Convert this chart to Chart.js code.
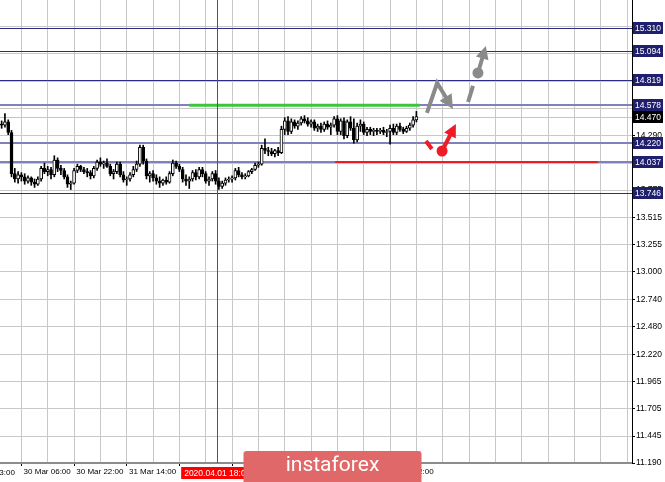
<!DOCTYPE html>
<html>
<head>
<meta charset="utf-8">
<script src="https://cdn.jsdelivr.net/npm/chart.js@4.4.0/dist/chart.umd.min.js"></script>
<style>
  html, body { margin: 0; padding: 0; background: #fff; }
</style>
</head>
<body>
<canvas id="chart" width="665" height="482"></canvas>
<script>
// hourly candles, one row of ten per line
var opens = [
  14.40, 14.39, 14.42, 14.32, 13.93, 13.88, 13.92, 13.90, 13.86, 13.89,
  13.85, 13.83, 13.88, 13.98, 13.95, 13.97, 13.92, 14.06, 13.98, 13.96,
  13.90, 13.83, 13.84, 13.96, 14.00, 13.97, 13.95, 13.94, 13.91, 13.98,
  14.04, 14.02, 14.03, 14.00, 13.93, 13.95, 14.02, 13.92, 13.87, 13.88,
  13.92, 13.97, 14.02, 14.18, 14.05, 13.91, 13.93, 13.89, 13.86, 13.84,
  13.87, 13.85, 13.93, 14.03, 14.00, 13.97, 13.88, 13.86, 13.88, 13.94,
  13.90, 13.97, 13.93, 13.86, 13.88, 13.93, 13.86, 13.81, 13.84, 13.87,
  13.88, 13.89, 13.96, 13.92, 13.90, 13.91, 13.95, 13.97, 14.01, 14.02,
  14.17, 14.15, 14.14, 14.12, 14.15, 14.13, 14.35, 14.43, 14.33, 14.42,
  14.38, 14.41, 14.45, 14.43, 14.40, 14.42, 14.36, 14.38, 14.35, 14.40,
  14.37, 14.39, 14.45, 14.33, 14.43, 14.29, 14.42, 14.36, 14.25, 14.38,
  14.40, 14.32, 14.35, 14.33, 14.34, 14.33, 14.34, 14.32, 14.33, 14.36,
  14.32, 14.38, 14.35, 14.33, 14.36, 14.39, 14.44
];
var highs = [
  14.43, 14.50, 14.44, 14.34, 13.98, 13.95, 13.94, 13.93, 13.91, 13.90,
  13.88, 13.90, 14.00, 14.03, 14.00, 13.99, 14.10, 14.08, 14.01, 13.98,
  13.92, 13.86, 13.98, 14.02, 14.01, 13.99, 13.98, 13.96, 14.00, 14.06,
  14.08, 14.05, 14.07, 14.02, 13.97, 14.04, 14.04, 13.95, 13.90, 13.94,
  14.00, 14.05, 14.20, 14.20, 14.07, 13.95, 13.96, 13.92, 13.90, 13.88,
  13.90, 13.95, 14.06, 14.05, 14.02, 13.99, 13.92, 13.90, 13.96, 13.97,
  13.99, 13.99, 13.95, 13.90, 13.95, 13.96, 13.89, 13.86, 13.89, 13.90,
  13.91, 13.98, 13.99, 13.94, 13.93, 13.96, 13.98, 14.03, 14.04, 14.20,
  14.26, 14.18, 14.17, 14.16, 14.18, 14.38, 14.46, 14.47, 14.45, 14.44,
  14.43, 14.47, 14.48, 14.46, 14.44, 14.44, 14.40, 14.41, 14.42, 14.43,
  14.41, 14.47, 14.48, 14.45, 14.46, 14.44, 14.47, 14.45, 14.41, 14.44,
  14.42, 14.37, 14.37, 14.36, 14.36, 14.36, 14.37, 14.35, 14.39, 14.40,
  14.40, 14.41, 14.37, 14.38, 14.41, 14.47, 14.52
];
var lows = [
  14.36, 14.37, 14.30, 13.90, 13.85, 13.84, 13.86, 13.83, 13.84, 13.82,
  13.80, 13.82, 13.86, 13.93, 13.91, 13.88, 13.90, 13.95, 13.92, 13.88,
  13.80, 13.78, 13.83, 13.94, 13.95, 13.93, 13.90, 13.88, 13.89, 13.96,
  14.00, 13.98, 13.99, 13.91, 13.88, 13.93, 13.90, 13.85, 13.82, 13.86,
  13.90, 13.95, 14.00, 14.02, 13.88, 13.85, 13.86, 13.83, 13.80, 13.82,
  13.83, 13.84, 13.91, 13.98, 13.95, 13.85, 13.82, 13.79, 13.86, 13.87,
  13.88, 13.90, 13.84, 13.82, 13.86, 13.83, 13.78, 13.79, 13.82, 13.85,
  13.85, 13.87, 13.90, 13.88, 13.88, 13.90, 13.93, 13.96, 13.99, 14.01,
  14.12, 14.10, 14.10, 14.09, 14.10, 14.12, 14.30, 14.30, 14.31, 14.36,
  14.35, 14.39, 14.41, 14.38, 14.37, 14.34, 14.33, 14.32, 14.33, 14.35,
  14.30, 14.37, 14.30, 14.30, 14.26, 14.27, 14.34, 14.22, 14.23, 14.33,
  14.30, 14.29, 14.30, 14.29, 14.30, 14.31, 14.30, 14.28, 14.21, 14.30,
  14.30, 14.33, 14.31, 14.32, 14.34, 14.37, 14.42
];
var closes = [
  14.39, 14.42, 14.32, 13.93, 13.88, 13.92, 13.90, 13.86, 13.89, 13.85,
  13.83, 13.88, 13.98, 13.95, 13.97, 13.92, 14.06, 13.98, 13.96, 13.90,
  13.83, 13.84, 13.96, 14.00, 13.97, 13.95, 13.94, 13.91, 13.98, 14.04,
  14.02, 14.03, 14.00, 13.93, 13.95, 14.02, 13.92, 13.87, 13.88, 13.92,
  13.97, 14.02, 14.18, 14.05, 13.91, 13.93, 13.89, 13.86, 13.84, 13.87,
  13.85, 13.93, 14.03, 14.00, 13.97, 13.88, 13.86, 13.88, 13.94, 13.90,
  13.97, 13.93, 13.86, 13.88, 13.93, 13.86, 13.81, 13.84, 13.87, 13.88,
  13.89, 13.96, 13.92, 13.90, 13.91, 13.95, 13.97, 14.01, 14.02, 14.17,
  14.15, 14.14, 14.12, 14.15, 14.13, 14.35, 14.43, 14.33, 14.42, 14.38,
  14.41, 14.45, 14.43, 14.40, 14.42, 14.36, 14.38, 14.35, 14.40, 14.37,
  14.39, 14.45, 14.33, 14.43, 14.29, 14.42, 14.36, 14.25, 14.38, 14.40,
  14.32, 14.35, 14.33, 14.34, 14.33, 14.34, 14.32, 14.33, 14.36, 14.32,
  14.38, 14.35, 14.33, 14.36, 14.39, 14.44, 14.47
];

// price scale
var yTicks = [11.190, 11.445, 11.705, 11.965, 12.220, 12.480, 12.740, 13.000, 13.255,
  13.515, 13.775, 14.030, 14.290, 14.550, 14.805, 15.065, 15.325];
var yMin = 11.190;
var yMax = 15.575;

// time scale: 192 bar slots, label every 16 bars starting at bar 6
var barSlots = 192;
var timeLabels = ["30 Mar 06:00", "30 Mar 22:00", "31 Mar 14:00", "1 Apr 06:00",
  "1 Apr 22:00", "2 Apr 14:00", "3 Apr 06:00", "3 Apr 22:00"];
var firstLabelBar = 6;
var labelStep = 16;
var gridStep = 8;
var prevLabel = "27 Mar 13:00";

// horizontal levels
var levelsMain = [15.310, 15.094, 14.819, 13.746];
var levelsMinor = [14.578, 14.220, 14.037];
var lastPrice = 14.470;
var greenLevel = [14.578, 57, 127];   // value, from bar, to bar
var redLevel = [14.037, 101.3, 181.2];
var crossBar = 65.5;
var crossTime = "2020.04.01 18:00";

// forecast arrows, in [bar, price]
var grayPath = [[129.2, 14.505], [132.3, 14.789], [137.1, 14.543]];
var grayDash = [[141.7, 14.609], [143.2, 14.761]];
var grayDot = [144.7, 14.884];
var grayTip = [147.1, 15.140];
var redDash = [[128.9, 14.240], [130.7, 14.164]];
var redDot = [133.8, 14.145];
var redTip = [138.0, 14.401];

var FONT = '"Liberation Sans", Arial, sans-serif';
var FSIZE = 8.5;
var XSIZE = 8;

var bodies = [], wicks = [], bodyFill = [];
for (var i = 0; i < opens.length; i++) {
  bodies.push({ x: i, y: [opens[i], closes[i]] });
  wicks.push({ x: i, y: [lows[i], highs[i]] });
  bodyFill.push(closes[i] >= opens[i] ? "#ffffff" : "#000000");
}

function isLabelBar(v) {
  var k = (v - firstLabelBar) / labelStep;
  return k >= 0 && k === Math.floor(k) && k < timeLabels.length;
}

function seg(ctx, x1, y1, x2, y2) {
  ctx.beginPath();
  ctx.moveTo(x1, y1);
  ctx.lineTo(x2, y2);
  ctx.stroke();
}

function head(ctx, fx, fy, tx, ty, len, half) {
  var a = Math.atan2(ty - fy, tx - fx);
  ctx.beginPath();
  ctx.moveTo(tx, ty);
  ctx.lineTo(tx - len * Math.cos(a) + half * Math.sin(a), ty - len * Math.sin(a) - half * Math.cos(a));
  ctx.lineTo(tx - len * Math.cos(a) - half * Math.sin(a), ty - len * Math.sin(a) + half * Math.cos(a));
  ctx.closePath();
  ctx.fill();
}

function levelBox(ctx, area, py, text, bg) {
  ctx.fillStyle = bg;
  ctx.fillRect(area.right + 1, py - 6, 30, 12);
  ctx.fillStyle = "#ffffff";
  ctx.textAlign = "left";
  ctx.textBaseline = "middle";
  ctx.fillText(text, area.right + 3, py + 0.5);
}

function noPad(scale) {
  scale.paddingTop = 0;
  scale.paddingBottom = 0;
  scale.paddingLeft = 0;
  scale.paddingRight = 0;
}

var overlay = {
  id: "overlay",
  beforeDatasetsDraw: function(chart) {
    var ctx = chart.ctx, area = chart.chartArea;
    var xs = chart.scales.x, ys = chart.scales.y;
    ctx.save();
    var py;
    ctx.strokeStyle = "#c4c4c4";
    ctx.lineWidth = 1;
    py = Math.round(ys.getPixelForValue(lastPrice)) + 0.5;
    seg(ctx, area.left, py, area.right, py);

    ctx.strokeStyle = "#8080bc";
    ctx.lineWidth = 2;
    levelsMinor.forEach(function(v) {
      py = Math.round(ys.getPixelForValue(v));
      seg(ctx, area.left, py, area.right, py);
    });
    ctx.strokeStyle = "#2c2c84";
    ctx.lineWidth = 1;
    levelsMain.forEach(function(v) {
      py = Math.round(ys.getPixelForValue(v)) + 0.5;
      seg(ctx, area.left, py, area.right, py);
    });

    ctx.strokeStyle = "#3cc43c";
    ctx.lineWidth = 3;
    py = ys.getPixelForValue(greenLevel[0]);
    seg(ctx, xs.getPixelForValue(greenLevel[1]), py, xs.getPixelForValue(greenLevel[2]), py);

    ctx.strokeStyle = "#ee1c24";
    ctx.lineWidth = 2;
    py = Math.round(ys.getPixelForValue(redLevel[0]));
    seg(ctx, xs.getPixelForValue(redLevel[1]), py, xs.getPixelForValue(redLevel[2]), py);

    var cx = Math.round(xs.getPixelForValue(crossBar)) + 0.5;
    ctx.strokeStyle = "#d02020";
    ctx.lineWidth = 1;
    seg(ctx, cx, area.top, cx, area.bottom);
    ctx.restore();
  },
  afterDraw: function(chart) {
    var ctx = chart.ctx, area = chart.chartArea;
    var xs = chart.scales.x, ys = chart.scales.y;
    function P(p) { return [xs.getPixelForValue(p[0]), ys.getPixelForValue(p[1])]; }
    ctx.save();

    // previous time label, mostly off the left edge
    ctx.font = XSIZE + "px " + FONT;
    ctx.fillStyle = "#000";
    ctx.textAlign = "left";
    ctx.textBaseline = "middle";
    ctx.fillText(prevLabel, xs.getPixelForValue(firstLabelBar - labelStep) - 1, area.bottom + 10);

    ctx.font = FSIZE + "px " + FONT;
    levelsMain.concat(levelsMinor).forEach(function(v) {
      levelBox(ctx, area, Math.round(ys.getPixelForValue(v)), v.toFixed(3), "#1f1f6e");
    });
    levelBox(ctx, area, Math.round(ys.getPixelForValue(lastPrice)), lastPrice.toFixed(3), "#000000");

    // crosshair time
    var cx = xs.getPixelForValue(crossBar);
    var tw = ctx.measureText(crossTime).width + 6;
    ctx.fillStyle = "#ff0000";
    ctx.fillRect(cx - tw / 2, area.bottom + 4, tw, 12);
    ctx.fillStyle = "#ffffff";
    ctx.textAlign = "left";
    ctx.fillText(crossTime, cx - tw / 2 + 3, area.bottom + 10.5);

    // gray forecast
    ctx.lineCap = "butt";
    ctx.lineJoin = "miter";
    ctx.strokeStyle = "#8a8a8a";
    ctx.fillStyle = "#8a8a8a";
    ctx.lineWidth = 4;
    var a = P(grayPath[0]), b = P(grayPath[1]), c = P(grayPath[2]);
    ctx.beginPath();
    ctx.moveTo(a[0], a[1]);
    ctx.lineTo(b[0], b[1]);
    ctx.lineTo(b[0] + (c[0] - b[0]) * 0.6, b[1] + (c[1] - b[1]) * 0.6);
    ctx.stroke();
    head(ctx, b[0], b[1], c[0], c[1], 14, 7);
    var d0 = P(grayDash[0]), d1 = P(grayDash[1]);
    seg(ctx, d0[0], d0[1], d1[0], d1[1]);
    var g = P(grayDot), t = P(grayTip);
    ctx.beginPath();
    ctx.arc(g[0], g[1], 5.5, 0, Math.PI * 2);
    ctx.fill();
    seg(ctx, g[0], g[1], g[0] + (t[0] - g[0]) * 0.6, g[1] + (t[1] - g[1]) * 0.6);
    head(ctx, g[0], g[1], t[0], t[1], 13, 6.5);

    // red forecast
    ctx.strokeStyle = "#ee1c24";
    ctx.fillStyle = "#ee1c24";
    var r0 = P(redDash[0]), r1 = P(redDash[1]);
    seg(ctx, r0[0], r0[1], r1[0], r1[1]);
    var rd = P(redDot), rt = P(redTip);
    ctx.beginPath();
    ctx.arc(rd[0], rd[1], 5.5, 0, Math.PI * 2);
    ctx.fill();
    seg(ctx, rd[0], rd[1], rd[0] + (rt[0] - rd[0]) * 0.6, rd[1] + (rt[1] - rd[1]) * 0.6);
    head(ctx, rd[0], rd[1], rt[0], rt[1], 13, 6.5);

    // watermark
    var W = chart.width, H = chart.height;
    ctx.fillStyle = "#e06868";
    ctx.beginPath();
    ctx.roundRect(W / 2 - 89, H - 31, 178, 40, 3);
    ctx.fill();
    ctx.fillStyle = "#ffffff";
    ctx.font = "21px Roboto, sans-serif";
    ctx.textAlign = "center";
    ctx.textBaseline = "middle";
    ctx.fillText("instaforex", W / 2, H - 16);
    ctx.restore();
  }
};

var ctx = document.getElementById("chart").getContext("2d");
var chart = new Chart(ctx, {
  type: "bar",
  data: {
    datasets: [
      {
        data: bodies,
        backgroundColor: bodyFill,
        borderColor: "#000000",
        borderWidth: 1,
        borderSkipped: false,
        barThickness: 3,
        grouped: false
      },
      {
        data: wicks,
        backgroundColor: "#000000",
        borderWidth: 0,
        barThickness: 1,
        grouped: false
      }
    ]
  },
  options: {
    responsive: false,
    animation: false,
    layout: { padding: 0, autoPadding: false },
    plugins: { legend: { display: false }, tooltip: { enabled: false } },
    scales: {
      x: {
        type: "linear",
        offset: false,
        min: -0.5,
        max: barSlots - 0.5,
        afterBuildTicks: function(scale) {
          var t = [];
          for (var v = firstLabelBar; v < barSlots; v += gridStep) t.push({ value: v });
          scale.ticks = t;
        },
        afterFit: function(scale) { scale.height = 19; noPad(scale); },
        grid: {
          color: "#c8c8c8",
          borderDash: [3, 3],
          offset: false,
          tickLength: 3,
          tickBorderDash: [],
          tickColor: function(c) { return c.tick && isLabelBar(c.tick.value) ? "#000" : "rgba(0,0,0,0)"; }
        },
        border: { display: true, color: "#8c8c8c", width: 2 },
        ticks: {
          autoSkip: false,
          maxRotation: 0,
          align: "start",
          padding: 1,
          color: "#000",
          font: { family: FONT, size: XSIZE },
          callback: function(v) {
            return isLabelBar(v) ? " " + timeLabels[(v - firstLabelBar) / labelStep] : "";
          }
        }
      },
      y: {
        position: "right",
        min: yMin,
        max: yMax,
        afterBuildTicks: function(scale) {
          scale.ticks = yTicks.map(function(v) { return { value: v }; });
        },
        afterFit: function(scale) { scale.width = 33; noPad(scale); },
        grid: {
          color: "#c8c8c8",
          borderDash: [3, 3],
          tickLength: 3,
          tickBorderDash: [],
          tickColor: "#000"
        },
        border: { display: true, color: "#000", width: 1 },
        ticks: {
          autoSkip: false,
          padding: 1,
          color: "#000",
          font: { family: FONT, size: FSIZE },
          callback: function(v) { return v.toFixed(3); }
        }
      }
    }
  },
  plugins: [overlay]
});
</script>
</body>
</html>
